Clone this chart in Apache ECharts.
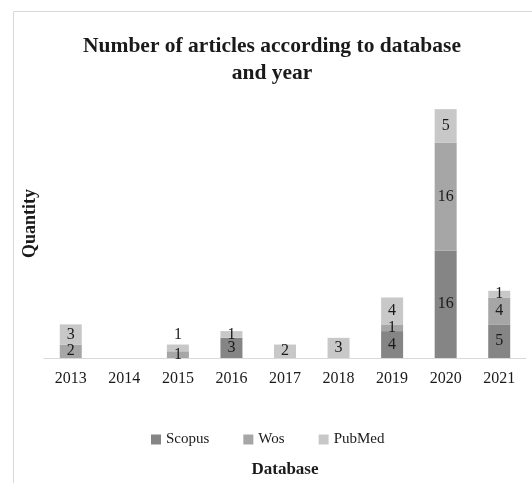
<!DOCTYPE html>
<html>
<head>
<meta charset="utf-8">
<script src="https://cdn.jsdelivr.net/npm/echarts@6/dist/echarts.min.js"></script>
<style>
  html, body { margin: 0; padding: 0; background: #fff; }
  #chart { width: 532px; height: 483px; }
</style>
</head>
<body>
<div id="chart"></div>
<script>
// Articles per year, split by source database
const years = ['2013', '2014', '2015', '2016', '2017', '2018', '2019', '2020', '2021'];
const scopus = [0, 0, 0, 3, 0, 0, 4, 16, 5];
const wos = [2, 0, 1, 0, 0, 0, 1, 16, 4];
const pubmed = [3, 0, 1, 1, 2, 3, 4, 5, 1];

const FONT = 'Liberation Serif';
const TEXT = '#1a1a1a';

function stackSeries(name, values, color) {
  return {
    name: name,
    type: 'bar',
    stack: 'total',
    barWidth: 22,
    itemStyle: { color: color },
    label: {
      show: true,
      position: 'inside',
      fontFamily: FONT,
      fontSize: 16,
      color: TEXT,
      formatter: p => (p.value ? String(p.value) : '')
    },
    data: values.map(v => ({ value: v }))
  };
}

const series = [
  stackSeries('Scopus', scopus, '#858585'),
  stackSeries('Wos', wos, '#a6a6a6'),
  stackSeries('PubMed', pubmed, '#c8c8c8')
];
// The 2015 PubMed label sits above its thin segment
series[2].data[2].label = { position: 'top', distance: 2 };

const chart = echarts.init(document.getElementById('chart'), null, { renderer: 'canvas' });
chart.setOption({
  animation: false,
  title: {
    text: 'Number of articles according to database\nand year',
    left: 267,
    textAlign: 'center',
    top: 28,
    textStyle: {
      fontFamily: FONT,
      fontSize: 21.5,
      fontWeight: 'bold',
      color: TEXT,
      lineHeight: 27
    }
  },
  legend: {
    left: 146,
    top: 427,
    itemWidth: 10,
    itemHeight: 10,
    itemGap: 34,
    icon: 'rect',
    textStyle: { fontFamily: FONT, fontSize: 15, color: TEXT },
    data: ['Scopus', 'Wos', 'PubMed']
  },
  grid: { left: 44, right: 6, top: 89, bottom: 123 },
  xAxis: {
    type: 'category',
    data: years,
    name: 'Database',
    nameLocation: 'middle',
    nameGap: 103,
    nameTextStyle: { fontFamily: FONT, fontSize: 17, fontWeight: 'bold', color: TEXT },
    axisLine: { lineStyle: { color: '#d9d9d9', width: 1 } },
    axisTick: { show: false },
    axisLabel: { fontFamily: FONT, fontSize: 16, color: TEXT, margin: 13 }
  },
  yAxis: {
    type: 'value',
    min: 0,
    max: 40,
    interval: 5,
    name: 'Quantity',
    nameLocation: 'middle',
    nameGap: 5,
    nameTextStyle: { fontFamily: FONT, fontSize: 18, fontWeight: 'bold', color: TEXT },
    axisLine: { show: false },
    axisTick: { show: false },
    axisLabel: { show: false },
    splitLine: { show: false }
  },
  graphic: [{
    type: 'rect',
    shape: { x: 13.5, y: 11.5, width: 540, height: 500 },
    style: { fill: null, stroke: '#d9d9d9', lineWidth: 1 },
    silent: true,
    z: -1
  }],
  series: series
});
</script>
</body>
</html>
